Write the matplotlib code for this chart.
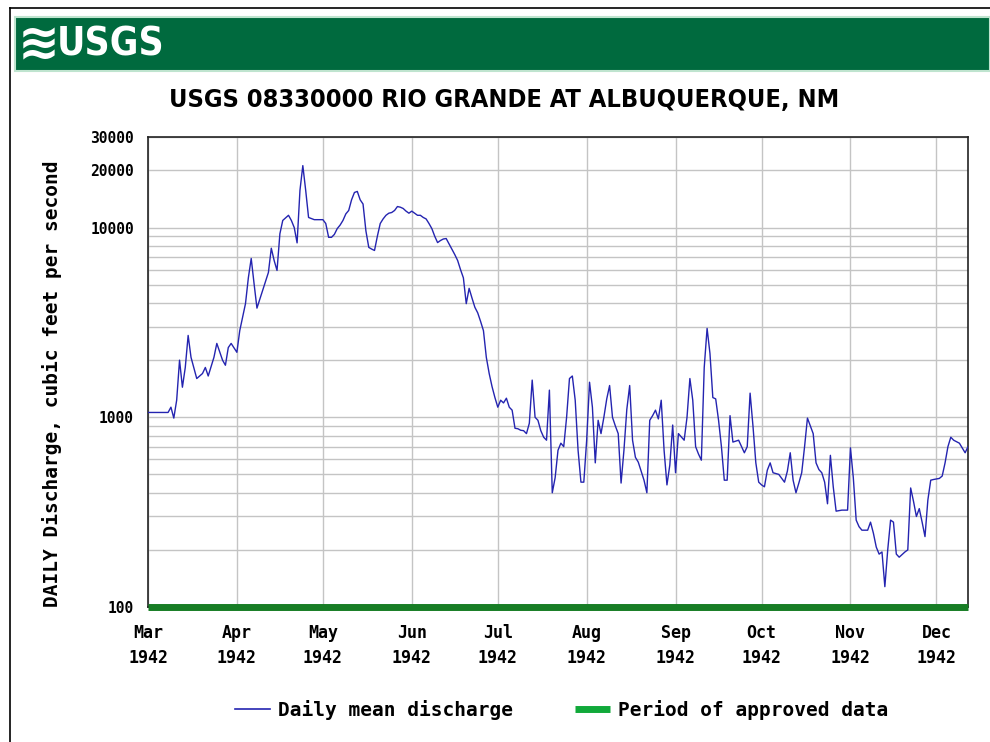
# Rio Grande at Albuquerque, daily discharge 1942 (USGS style chart)

# Third party modules #
import pandas as pd
import matplotlib
matplotlib.use('Agg')
from matplotlib import pyplot, font_manager
from matplotlib.lines import Line2D
from matplotlib.patches import Rectangle

# Data #
start = pd.Timestamp('1942-03-01')
day_index = [0, 6, 7, 8, 9, 10, 11, 12, 13, 14, 15, 17, 19, 20, 21, 23, 24, 26, 27, 28, 29,
             31, 32, 34, 35, 36, 37, 38, 40, 42, 43, 44, 45, 46, 47, 49, 50, 51, 52, 53, 54,
             55, 56, 58, 61, 62, 63, 64, 65, 66, 67, 68, 69, 70, 71, 72, 73, 74, 75, 76, 77,
             78, 79, 80, 81, 82, 83, 84, 85, 86, 87, 88, 89, 90, 91, 92, 93, 94, 95, 96, 97,
             98, 99, 100, 101, 102, 103, 104, 105, 106, 107, 108, 109, 110, 111, 112, 113,
             114, 115, 116, 117, 118, 119, 120, 121, 122, 123, 124, 125, 126, 127, 128, 129,
             130, 131, 132, 133, 134, 135, 136, 137, 138, 139, 140, 141, 142, 143, 144, 145,
             146, 147, 148, 149, 150, 151, 152, 153, 154, 155, 156, 157, 158, 159, 160, 161,
             162, 163, 164, 165, 166, 167, 168, 169, 170, 171, 172, 173, 174, 175, 176, 177,
             178, 179, 180, 181, 182, 183, 184, 185, 187, 188, 189, 190, 191, 192, 193, 194,
             195, 196, 197, 198, 199, 200, 201, 202, 203, 204, 206, 208, 209, 210, 211, 212,
             213, 214, 215, 216, 217, 218, 220, 222, 223, 224, 225, 226, 227, 228, 229, 230,
             231, 232, 233, 234, 235, 236, 237, 238, 239, 240, 242, 244, 245, 246, 247, 248,
             249, 251, 252, 253, 254, 255, 256, 257, 258, 259, 260, 261, 262, 264, 265, 266,
             267, 268, 269, 270, 271, 272, 273, 274, 276, 277, 278, 279, 280, 281, 283, 285,
             286]
discharge = [1060, 1060, 1060, 1130, 990, 1230, 2000, 1440, 1830, 2700, 2070, 1600, 1700,
             1830, 1650, 2070, 2450, 2000, 1880, 2330, 2450,
             2200, 2860, 3970, 5430, 6870, 5050, 3760, 4660, 5800, 7780, 6700, 5940, 9270,
             10900, 11600, 10900, 10000, 8300, 15700, 21200,
             15700, 11300, 11000, 11000, 10500, 8880, 8880, 9200, 9870, 10300, 10900, 11800,
             12300, 14000, 15300, 15500, 14000, 13300, 9600, 7860,
             7700, 7570, 9000, 10500, 11100, 11600, 11900, 12000, 12300, 12900, 12800, 12600,
             12200, 11900, 12200, 11900, 11600, 11600, 11300, 11100,
             10500, 9870, 9000, 8330, 8540, 8700, 8750, 8200, 7700, 7200, 6700, 6000, 5430,
             3970, 4780, 4250,
             3800, 3550, 3200, 2860, 2070, 1700, 1450, 1270, 1130, 1230, 1190, 1260, 1130,
             1090, 875, 870,
             854, 850, 820, 930, 1570, 1000, 964, 850, 785, 757, 1390, 400, 480, 670, 730, 700,
             1000, 1600, 1650, 1230, 670, 455, 455, 757, 1530, 1130, 575, 964, 820, 1000, 1250,
             1470,
             1000, 900, 820, 450, 670, 1100, 1470, 757, 615, 580, 520, 466, 400, 964, 1020, 1090,
             980, 1230, 670, 440, 560, 910, 510, 820, 757, 1000, 1600, 1230, 700, 640, 594, 1830,
             2940, 2170, 1270, 1250, 964, 700, 466, 466, 1020, 740, 757, 650, 700, 1340, 900, 575,
             455, 440, 430, 526, 575, 510, 500, 455, 520, 650, 466, 400, 450, 510, 700, 990,
             900, 820, 575, 530, 510, 455, 350, 630, 430, 320, 324, 324, 690, 480, 287, 265,
             254, 254, 280, 245, 207, 190, 195, 128, 200, 287, 280, 190, 183, 195, 200, 424,
             360, 300, 330, 280, 235, 366, 466, 470, 476, 490, 575, 700, 785, 757, 730, 650,
             700]
month_ticks = ['1942-03-01', '1942-04-01', '1942-05-01', '1942-06-01', '1942-07-01',
               '1942-08-01', '1942-09-01', '1942-10-01', '1942-11-01', '1942-12-01']
month_labels = ['Mar\n1942', 'Apr\n1942', 'May\n1942', 'Jun\n1942', 'Jul\n1942',
                'Aug\n1942', 'Sep\n1942', 'Oct\n1942', 'Nov\n1942', 'Dec\n1942']
ytick_values = [100, 1000, 10000, 20000, 30000]
ytick_labels = ['100', '1000', '10000', '20000', '30000']
ygrid_minor = [200, 300, 400, 500, 600, 700, 800, 900,
               2000, 3000, 4000, 5000, 6000, 7000, 8000, 9000]

# Constants #
W, H = 990, 742
mono = 'DejaVu Sans Mono'
line_blue = '#2424b0'
grid_grey = '#c4c4c4'
usgs_green = '#006a3e'

# Narrow bold face for title and logo #
narrow = font_manager.FontProperties(family='DejaVu Sans', weight='bold', stretch='condensed')

dates = start + pd.to_timedelta(day_index, unit='D')

################################################################################
fig = pyplot.figure(figsize=(W / 100, H / 100), dpi=100)

# Frame lines of the page #
fig.add_artist(Line2D([10 / W, 10 / W], [0, 1 - 8 / H], color='black', lw=1.2))
fig.add_artist(Line2D([10 / W, 1], [1 - 8 / H, 1 - 8 / H], color='black', lw=1.2))

# Green header band with logo #
fig.add_artist(Rectangle((15 / W, 1 - 71 / H), 1 - 15 / W, 54 / H, transform=fig.transFigure,
                         facecolor=usgs_green, edgecolor='#bfe4cf', lw=1.5))
fig.text(18 / W, 1 - 45 / H, '\u224b', color='white', fontsize=36, fontweight='bold',
         ha='left', va='center')
logo = narrow.copy()
logo.set_size(28)
fig.text(57 / W, 1 - 44 / H, 'USGS', color='white', fontproperties=logo,
         ha='left', va='center')

# Title #
title_font = narrow.copy()
title_font.set_size(18.2)
fig.text(504 / W, 1 - 100 / H, 'USGS 08330000 RIO GRANDE AT ALBUQUERQUE, NM',
         fontproperties=title_font, ha='center', va='center')

# Axes #
axes = fig.add_axes([148 / W, 1 - 607 / H, 820 / W, 470 / H])
axes.set_yscale('log')
axes.set_ylim(100, 30000)
axes.set_xlim(dates[0], dates[-1])
axes.set_yticks(ytick_values)
axes.set_yticklabels(ytick_labels)
axes.set_yticks(ygrid_minor, minor=True)
axes.yaxis.set_minor_formatter(matplotlib.ticker.NullFormatter())
axes.set_xticks(pd.to_datetime(month_ticks))
axes.set_xticklabels(month_labels)
axes.grid(True, which='both', color=grid_grey, lw=1)
axes.set_axisbelow(True)
axes.tick_params(which='both', length=0)
axes.tick_params(axis='y', pad=10)
axes.tick_params(axis='x', pad=12)
for lab in axes.get_yticklabels():
    lab.set_fontproperties({'family': mono, 'weight': 'bold', 'size': 10.5})
for lab in axes.get_xticklabels():
    lab.set_fontproperties({'family': mono, 'weight': 'bold', 'size': 12})
    lab.set_linespacing(1.5)
for s in axes.spines.values():
    s.set_color('#222222')
    s.set_linewidth(1.2)

# Series #
axes.plot(dates, discharge, color=line_blue, lw=1.0, zorder=3)
axes.plot([dates[0], dates[-1]], [100, 100], color='#177d25', lw=5,
          solid_capstyle='butt', clip_on=False, zorder=4)

# Y label #
fig.text(52 / W, 1 - 384 / H, 'DAILY Discharge, cubic feet per second', rotation=90,
         family=mono, fontweight='bold', fontsize=14, ha='center', va='center')

# Legend #
handles = [Line2D([], [], color=line_blue, lw=1.2),
           Line2D([], [], color='#11a93a', lw=5, solid_capstyle='butt')]
fig.legend(handles, ['Daily mean discharge', 'Period of approved data'], loc='center',
           bbox_to_anchor=(562 / W, 1 - 710 / H), ncol=2, frameon=False, handlelength=1.8,
           handletextpad=0.4, columnspacing=3.2,
           prop={'family': mono, 'weight': 'bold', 'size': 14})

fig.savefig('out.png', dpi=100)
pyplot.close(fig)
